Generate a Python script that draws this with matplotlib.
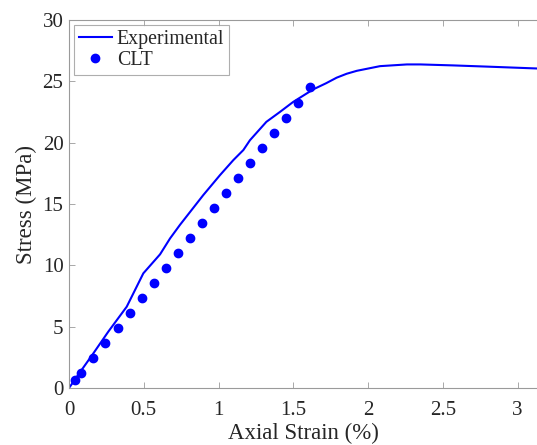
import matplotlib
matplotlib.use("Agg")
import matplotlib.pyplot as plt

plt.rcParams['font.family'] = ['Liberation Serif', 'DejaVu Serif']
plt.rcParams['mathtext.fontset'] = 'stix'

# Experimental stress-strain curve
exp_strain = [0, 0.08, 0.163, 0.263, 0.386, 0.497, 0.609, 0.676, 0.742,
              0.898, 1.01, 1.099, 1.166, 1.21, 1.32, 1.41, 1.50, 1.634, 1.72,
              1.79, 1.857, 1.925, 2.08, 2.26, 2.35, 2.57, 2.8, 3.13]
exp_stress = [0, 1.4, 2.83, 4.6, 6.63, 9.35, 10.9, 12.2, 13.3,
              15.73, 17.36, 18.58, 19.4, 20.2, 21.7, 22.5, 23.33, 24.35, 24.85,
              25.3, 25.62, 25.86, 26.24, 26.38, 26.38, 26.3, 26.2, 26.05]

# Classical lamination theory prediction
clt_strain = [0.04, 0.08, 0.16, 0.24, 0.33, 0.41, 0.49, 0.57, 0.65, 0.73, 0.81,
              0.89, 0.97, 1.05, 1.13, 1.21, 1.29, 1.37, 1.45, 1.53, 1.61]
clt_stress = [0.62, 1.25, 2.47, 3.68, 4.9, 6.12, 7.35, 8.57, 9.8, 11.02, 12.25,
              13.47, 14.7, 15.92, 17.15, 18.37, 19.6, 20.82, 22.05, 23.27, 24.5]

x_ticks = [0, 0.5, 1, 1.5, 2, 2.5, 3]
x_ticklabels = ['0', '0.5', '1', '1.5', '2', '2.5', '3']
y_ticks = [0, 5, 10, 15, 20, 25, 30]

fig = plt.figure(figsize=(5.37, 4.45), dpi=100)
ax = fig.add_axes([0.1285, 0.128, 0.8715, 0.827])

ax.plot(exp_strain, exp_stress, color='#0000ff', lw=1.5, label='Experimental')
ax.plot(clt_strain, clt_stress, linestyle='none', marker='o', ms=6,
        color='#0000ff', label='CLT')

ax.set_xlim(0, 3.13)
ax.set_ylim(0, 30)
ax.set_xticks(x_ticks)
ax.set_xticklabels(x_ticklabels)
ax.set_yticks(y_ticks)

spine_color = '#9a9a9a'
for side in ['left', 'bottom', 'top']:
    ax.spines[side].set_color(spine_color)
    ax.spines[side].set_linewidth(0.8)
ax.spines['right'].set_visible(False)

ax.tick_params(direction='in', length=4, width=0.6, color=spine_color,
               labelsize=15, labelcolor='#262626', top=True)
ax.tick_params(axis='x', pad=9)
ax.tick_params(axis='y', pad=4)

ax.set_xlabel('Axial Strain (%)', fontsize=16.5, color='#262626', labelpad=2.5)
ax.set_ylabel('Stress (MPa)', fontsize=16.5, color='#262626', labelpad=4)

leg = ax.legend(loc='upper left', fontsize=14.3, frameon=True, fancybox=False,
                borderaxespad=0.25, handlelength=1.65, handletextpad=0.25,
                borderpad=0.25, labelspacing=0.1)
leg.get_frame().set_edgecolor(spine_color)
leg.get_frame().set_linewidth(0.8)
for t in leg.get_texts():
    t.set_color('#262626')

fig.savefig('out.png', dpi=100)
